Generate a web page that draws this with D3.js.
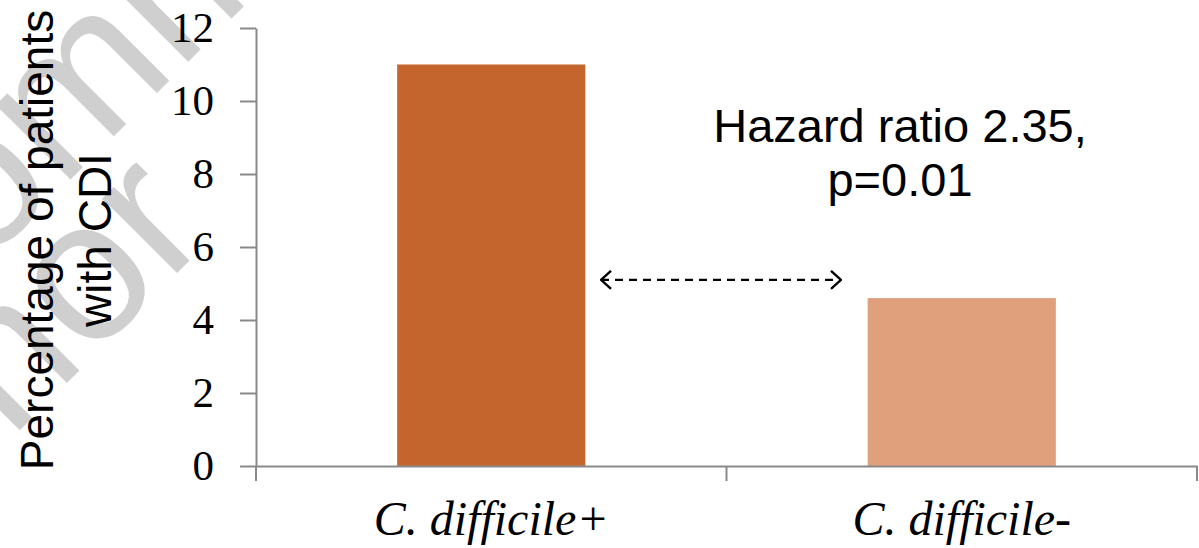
<!DOCTYPE html>
<html>
<head>
<meta charset="utf-8">
<script src="https://cdn.jsdelivr.net/npm/d3@7"></script>
<style>
  body { margin: 0; background: #fff; }
</style>
</head>
<body>
<div id="chart-area"></div>
<script>
const categories = ["C. difficile+", "C. difficile-"]
const values = [11.0, 4.6]
const barColors = ["#C4652D", "#E0A07C"]
const yTicks = [0, 2, 4, 6, 8, 10, 12]
const annotation = ["Hazard ratio 2.35,", "p=0.01"]
const yTitle = ["Percentage of patients", "with CDI"]
const watermark = ["Comm", "nor"]

const W = 1199
const H = 548
const MARGIN = { LEFT: 256, RIGHT: 2, TOP: 28, BOTTOM: 82 }
const AXIS_GRAY = "#898989"

const svg = d3.select("#chart-area")
  .append("svg")
  .attr("width", W)
  .attr("height", H)

// faint watermark behind everything (mostly off the page)
const wm = svg.append("g")
  .attr("fill", "#cfcfcf")
  .attr("font-family", "Liberation Sans, Arial, sans-serif")
  .attr("font-size", "200px")
wm.append("text")
  .attr("transform", "translate(-120,370) rotate(-45)")
  .text(watermark[0])
wm.append("text")
  .attr("transform", "translate(10,440) rotate(-45)")
  .text(watermark[1])

const x = d3.scaleBand()
  .domain(categories)
  .range([MARGIN.LEFT, W - MARGIN.RIGHT])

const y = d3.scaleLinear()
  .domain([0, 12])
  .range([H - MARGIN.BOTTOM, MARGIN.TOP])

// bars
const barW = x.bandwidth() * 0.4
svg.selectAll("rect.bar")
  .data(values)
  .enter().append("rect")
  .attr("class", "bar")
  .attr("x", (d, i) => x(categories[i]) + (x.bandwidth() - barW) / 2)
  .attr("y", d => y(d))
  .attr("width", barW)
  .attr("height", d => y(0) - y(d))
  .attr("fill", (d, i) => barColors[i])

// y axis
const yAxis = svg.append("g")
  .attr("transform", `translate(${MARGIN.LEFT},0)`)
  .call(d3.axisLeft(y).tickValues(yTicks).tickSize(16).tickPadding(26).tickSizeOuter(0))
yAxis.select(".domain").attr("stroke", AXIS_GRAY).attr("stroke-width", 2)
yAxis.selectAll(".tick line").attr("stroke", AXIS_GRAY).attr("stroke-width", 2)
yAxis.selectAll(".tick text")
  .attr("font-family", "Liberation Serif, Times New Roman, serif")
  .attr("font-size", "43px")
  .attr("fill", "#000")

// x axis
const xAxis = svg.append("g")
  .attr("transform", `translate(0,${y(0)})`)
  .call(d3.axisBottom(x).tickSize(0).tickSizeOuter(0))
xAxis.select(".domain").attr("stroke", AXIS_GRAY).attr("stroke-width", 2)
xAxis.selectAll(".tick text")
  .attr("font-family", "Liberation Serif, Times New Roman, serif")
  .attr("font-style", "italic")
  .attr("font-size", "48px")
  .attr("fill", "#000")
  .attr("y", 69)
  .attr("dy", 0)

// category separators below the x axis
const seps = x.domain().map(c => x(c)).concat([x(categories[categories.length - 1]) + x.bandwidth()])
xAxis.selectAll("line.sep")
  .data(seps)
  .enter().append("line")
  .attr("class", "sep")
  .attr("x1", d => d).attr("x2", d => d)
  .attr("y1", 0).attr("y2", 15)
  .attr("stroke", AXIS_GRAY)
  .attr("stroke-width", 2)

// y title
const yt = svg.append("text")
  .attr("transform", `translate(0,240) rotate(-90)`)
  .attr("text-anchor", "middle")
  .attr("font-family", "Liberation Sans, Arial, sans-serif")
  .attr("font-size", "46px")
  .attr("fill", "#000")
yt.selectAll("tspan")
  .data(yTitle)
  .enter().append("tspan")
  .attr("x", 0)
  .attr("y", (d, i) => 53 + i * 58)
  .text(d => d)

// annotation
svg.append("text")
  .attr("text-anchor", "middle")
  .attr("font-family", "Liberation Sans, Arial, sans-serif")
  .attr("font-size", "47px")
  .attr("fill", "#000")
  .selectAll("tspan")
  .data(annotation)
  .enter().append("tspan")
  .attr("x", 900)
  .attr("y", (d, i) => 142 + i * 54)
  .text(d => d)

// dashed double arrow between the bars
const defs = svg.append("defs")
defs.append("marker")
  .attr("id", "chev")
  .attr("viewBox", "0 0 12 20")
  .attr("refX", 11).attr("refY", 10)
  .attr("markerWidth", 12).attr("markerHeight", 20)
  .attr("markerUnits", "userSpaceOnUse")
  .attr("orient", "auto-start-reverse")
  .append("path")
  .attr("d", "M1,1 L11,10 L1,19")
  .attr("fill", "none")
  .attr("stroke", "#000")
  .attr("stroke-width", 2.4)

const arrowY = y(5.1)
svg.append("line")
  .attr("x1", 601).attr("x2", 841)
  .attr("y1", arrowY).attr("y2", arrowY)
  .attr("stroke", "#000")
  .attr("stroke-width", 2.2)
  .attr("stroke-dasharray", "8,6")
  .attr("marker-start", "url(#chev)")
  .attr("marker-end", "url(#chev)")
</script>
</body>
</html>
